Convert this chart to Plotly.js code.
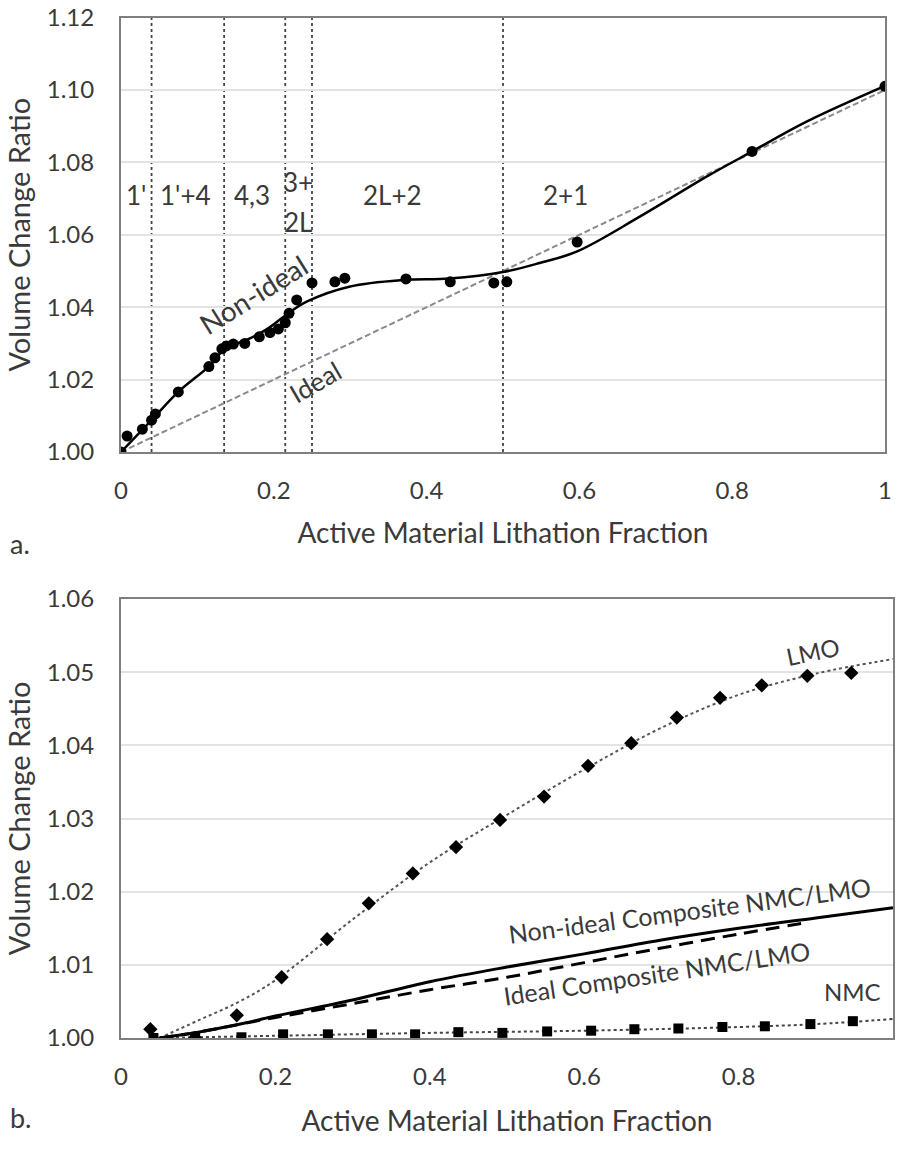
<!DOCTYPE html>
<html>
<head>
<meta charset="utf-8">
<script src="https://cdn.plot.ly/plotly-3.0.1.min.js"></script>
<style>html,body{margin:0;padding:0;background:#fff;}#chart{width:899px;height:1151px;}</style>
</head>
<body>
<div id="chart"></div>
<script>
// ---------- Panel a data ----------
const aPointsX = [0, 0.008, 0.028, 0.04, 0.045, 0.075, 0.115, 0.123, 0.132, 0.138, 0.147, 0.162, 0.181, 0.195, 0.206, 0.215, 0.22, 0.23, 0.25, 0.28, 0.293, 0.373, 0.431, 0.488, 0.505, 0.597, 0.826, 1.0];
const aPointsY = [1.000, 1.0044, 1.0063, 1.0088, 1.0105, 1.0166, 1.0236, 1.026, 1.0285, 1.0293, 1.0298, 1.030, 1.0318, 1.033, 1.034, 1.0357, 1.0383, 1.042, 1.0467, 1.047, 1.048, 1.0478, 1.047, 1.0467, 1.047, 1.058, 1.083, 1.101];
const aNonIdealX = [0, 0.04, 0.075, 0.117, 0.136, 0.165, 0.19, 0.217, 0.243, 0.3, 0.37, 0.43, 0.5, 0.548, 0.597, 0.679, 0.767, 0.826, 0.898, 1.0];
const aNonIdealY = [1.0, 1.0088, 1.0166, 1.024, 1.0285, 1.031, 1.0338, 1.038, 1.0415, 1.0457, 1.0475, 1.0479, 1.0497, 1.0522, 1.0554, 1.0650, 1.0761, 1.0830, 1.0913, 1.1011];
const aIdealX = [0, 1];
const aIdealY = [1.0, 1.10];
const aPhaseBounds = [0.04, 0.135, 0.215, 0.25, 0.5];
const aPhaseLabels = ["1'", "1'+4", "4,3", "3+", "2L", "2L+2", "2+1"];
const aPhaseLabelX = [0.02, 0.085, 0.171, 0.232, 0.232, 0.356, 0.582];
const aPhaseLabelY = [1.071, 1.071, 1.071, 1.0746, 1.0636, 1.071, 1.071];
const aYTicks = [1.00, 1.02, 1.04, 1.06, 1.08, 1.10, 1.12];
const xTicks = [0, 0.2, 0.4, 0.6, 0.8, 1];

// ---------- Panel b data ----------
const lmoX = [0.038, 0.096, 0.150, 0.208, 0.267, 0.321, 0.378, 0.434, 0.491, 0.548, 0.605, 0.661, 0.720, 0.776, 0.830, 0.889, 0.946];
const lmoY = [1.0012, 1.0000, 1.0031, 1.0083, 1.0135, 1.0184, 1.0225, 1.0261, 1.0298, 1.0330, 1.0372, 1.0403, 1.0438, 1.0465, 1.0482, 1.0495, 1.0499];
const lmoFitX = [0.05, 0.1, 0.15, 0.2, 0.3, 0.4, 0.5, 0.6, 0.7, 0.8, 0.9, 1.0];
const lmoFitY = [1.0, 1.0024, 1.0048, 1.0079, 1.0162, 1.0240, 1.0305, 1.0367, 1.0424, 1.0469, 1.0498, 1.0518];
const nmcX = [0.042, 0.096, 0.156, 0.21, 0.268, 0.325, 0.381, 0.437, 0.494, 0.552, 0.609, 0.665, 0.722, 0.779, 0.834, 0.893, 0.948];
const nmcY = [1.0000, 1.0000, 1.0001, 1.0005, 1.0005, 1.0005, 1.0005, 1.0008, 1.0007, 1.0009, 1.0010, 1.0012, 1.0013, 1.0015, 1.0016, 1.0019, 1.0023];
const nmcFitX = [0.04, 0.2, 0.4, 0.6, 0.8, 0.9, 1.0];
const nmcFitY = [1.0, 1.0003, 1.0007, 1.0010, 1.0015, 1.0019, 1.0026];
const compNonIdealX = [0.05, 0.1, 0.15, 0.2, 0.3, 0.4, 0.5, 0.6, 0.7, 0.8, 0.9, 1.0];
const compNonIdealY = [1.0, 1.0008, 1.0018, 1.0030, 1.0052, 1.0077, 1.0097, 1.0115, 1.0134, 1.0150, 1.0164, 1.0178];
const compIdealX = [0.05, 0.1, 0.2, 0.3, 0.4, 0.5, 0.6, 0.7, 0.8, 0.89];
const compIdealY = [1.0, 1.0008, 1.0028, 1.0047, 1.0066, 1.0083, 1.0103, 1.0123, 1.0142, 1.0158];
const bYTicks = [1.00, 1.01, 1.02, 1.03, 1.04, 1.05, 1.06];

const FONT = 'Lato, "Open Sans", sans-serif';
const TXT = '#3a3a3a';

const traces = [
  {x: aIdealX, y: aIdealY, xaxis: 'x', yaxis: 'y', mode: 'lines', line: {color: '#8a8a8a', width: 2, dash: '6px,3px'}, hoverinfo: 'skip'},
  {x: aNonIdealX, y: aNonIdealY, xaxis: 'x', yaxis: 'y', mode: 'lines', line: {color: '#000', width: 2.5, shape: 'spline', smoothing: 1}, hoverinfo: 'skip'},
  {x: aPointsX, y: aPointsY, xaxis: 'x', yaxis: 'y', mode: 'markers', marker: {color: '#000', size: 11, symbol: 'circle'}},
  {x: lmoFitX, y: lmoFitY, xaxis: 'x2', yaxis: 'y2', mode: 'lines', line: {color: '#555', width: 2, dash: 'dot', shape: 'spline', smoothing: 1}, hoverinfo: 'skip'},
  {x: nmcFitX, y: nmcFitY, xaxis: 'x2', yaxis: 'y2', mode: 'lines', line: {color: '#444', width: 2, dash: 'dot', shape: 'spline', smoothing: 1}, hoverinfo: 'skip'},
  {x: compIdealX, y: compIdealY, xaxis: 'x2', yaxis: 'y2', mode: 'lines', line: {color: '#000', width: 3, dash: '14px,8px', shape: 'spline', smoothing: 1}, hoverinfo: 'skip'},
  {x: compNonIdealX, y: compNonIdealY, xaxis: 'x2', yaxis: 'y2', mode: 'lines', line: {color: '#000', width: 3, shape: 'spline', smoothing: 1}, hoverinfo: 'skip'},
  {x: lmoX, y: lmoY, xaxis: 'x2', yaxis: 'y2', mode: 'markers', marker: {color: '#000', size: 11, symbol: 'diamond'}},
  {x: nmcX, y: nmcY, xaxis: 'x2', yaxis: 'y2', mode: 'markers', marker: {color: '#000', size: 10, symbol: 'square'}}
];

const shapes = aPhaseBounds.map(v => ({
  type: 'line', xref: 'x', yref: 'y', x0: v, x1: v, y0: 1.00, y1: 1.12,
  line: {color: '#444', width: 1.8, dash: 'dot'}, layer: 'below'
}));

const annotations = [];
aPhaseLabels.forEach((t, i) => annotations.push({
  text: t, x: aPhaseLabelX[i], y: aPhaseLabelY[i], xref: 'x', yref: 'y',
  showarrow: false, font: {family: FONT, size: 26, color: TXT}
}));
annotations.push({text: 'Non-ideal', x: 0.174, y: 1.0436, xref: 'x', yref: 'y', showarrow: false, textangle: -32, font: {family: FONT, size: 28, color: TXT}});
annotations.push({text: 'Ideal', x: 0.254, y: 1.0194, xref: 'x', yref: 'y', showarrow: false, textangle: -30, font: {family: FONT, size: 26, color: TXT}});
annotations.push({text: 'LMO', x: 0.896, y: 1.0528, xref: 'x2', yref: 'y2', showarrow: false, textangle: -12, font: {family: FONT, size: 24, color: TXT}});
annotations.push({text: 'Non-ideal Composite NMC/LMO', x: 0.737, y: 1.0175, xref: 'x2', yref: 'y2', showarrow: false, textangle: -7.5, font: {family: FONT, size: 25, color: TXT}});
annotations.push({text: 'Ideal Composite NMC/LMO', x: 0.694, y: 1.0089, xref: 'x2', yref: 'y2', showarrow: false, textangle: -8.5, font: {family: FONT, size: 25, color: TXT}});
annotations.push({text: 'NMC', x: 0.948, y: 1.0063, xref: 'x2', yref: 'y2', showarrow: false, font: {family: FONT, size: 24, color: TXT}});
annotations.push({text: 'a.', x: 8/899, y: 1 - 543/1151, xref: 'paper', yref: 'paper', xanchor: 'left', showarrow: false, font: {family: FONT, size: 27, color: TXT}});
annotations.push({text: 'b.', x: 8/899, y: 1 - 1136/1151, xref: 'paper', yref: 'paper', xanchor: 'left', showarrow: false, font: {family: FONT, size: 27, color: TXT}});

const axCommon = {
  showline: true, mirror: true, linecolor: '#7f7f7f', linewidth: 2,
  zeroline: false, ticks: '', tickfont: {family: FONT, size: 24, color: TXT}
};

const layout = {
  width: 899, height: 1151,
  margin: {l: 0, r: 0, t: 0, b: 0},
  paper_bgcolor: '#fff', plot_bgcolor: '#fff',
  showlegend: false,
  font: {family: FONT, color: TXT},
  xaxis: Object.assign({}, axCommon, {
    domain: [121/899, 885/899], anchor: 'y', range: [0, 1], tickvals: xTicks,
    ticktext: xTicks.map(String), showgrid: false, ticklabelstandoff: 16,
    title: {text: 'Active Material Lithation Fraction', font: {family: FONT, size: 28, color: TXT}, standoff: 21}
  }),
  yaxis: Object.assign({}, axCommon, {
    domain: [1 - 452/1151, 1 - 17.5/1151], anchor: 'x', range: [1.00, 1.12], tickvals: aYTicks,
    ticktext: aYTicks.map(v => v.toFixed(2)), showgrid: true, gridcolor: '#e3e3e3', gridwidth: 2,
    ticklabelstandoff: 20,
    title: {text: 'Volume Change Ratio', font: {family: FONT, size: 29, color: TXT}, standoff: 8}
  }),
  xaxis2: Object.assign({}, axCommon, {
    domain: [121/899, 893/899], anchor: 'y2', range: [0, 1], tickvals: xTicks,
    ticktext: xTicks.map(String), showgrid: false, ticklabelstandoff: 16,
    title: {text: 'Active Material Lithation Fraction', font: {family: FONT, size: 28, color: TXT}, standoff: 23}
  }),
  yaxis2: Object.assign({}, axCommon, {
    domain: [1 - 1038/1151, 1 - 599/1151], anchor: 'x2', range: [1.00, 1.06], tickvals: bYTicks,
    ticktext: bYTicks.map(v => v.toFixed(2)), showgrid: true, gridcolor: '#e3e3e3', gridwidth: 2,
    ticklabelstandoff: 20,
    title: {text: 'Volume Change Ratio', font: {family: FONT, size: 29, color: TXT}, standoff: 8}
  }),
  shapes: shapes,
  annotations: annotations
};

Plotly.newPlot('chart', traces, layout, {displayModeBar: false, staticPlot: true});
</script>
</body>
</html>
